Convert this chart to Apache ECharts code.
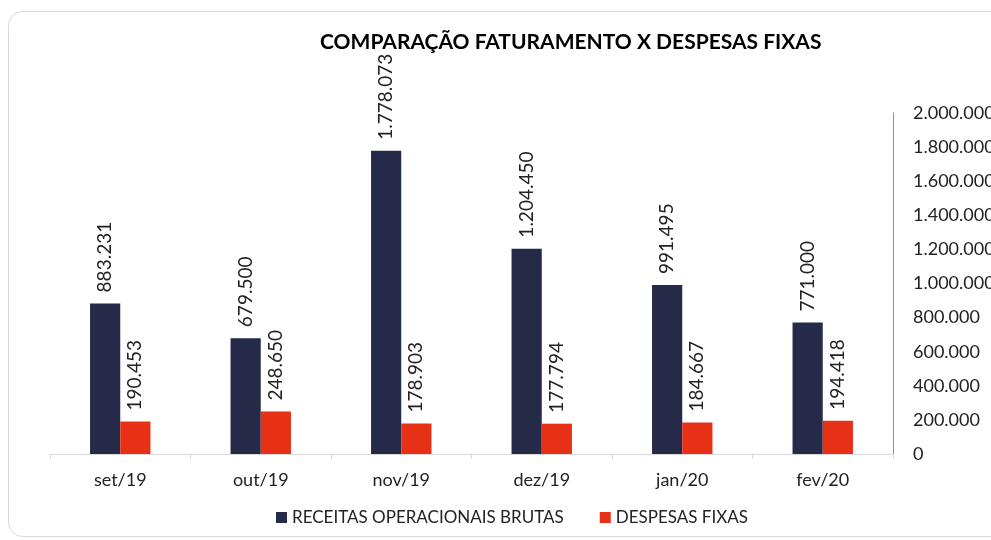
<!DOCTYPE html>
<html><head><meta charset="utf-8">
<script src="https://cdn.jsdelivr.net/npm/echarts@6/dist/echarts.min.js"></script>
<style>html,body{margin:0;padding:0;background:#fff}#c{width:991px;height:540px}</style>
</head><body><div id="c"></div>
<script>
const categories = ['set/19','out/19','nov/19','dez/19','jan/20','fev/20'];
const receitas = [883231, 679500, 1778073, 1204450, 991495, 771000];
const despesas = [190453, 248650, 178903, 177794, 184667, 194418];
const seriesNames = ['RECEITAS OPERACIONAIS BRUTAS', 'DESPESAS FIXAS'];
const titleText = 'COMPARAÇÃO FATURAMENTO X DESPESAS FIXAS';

function fmt(v){ return String(Math.round(v)).replace(/\B(?=(\d{3})+(?!\d))/g, '.'); }
const FONT = 'Lato, "Open Sans", sans-serif';
const chart = echarts.init(document.getElementById('c'));
const lbl = {
  show: true, position: 'top', rotate: 90, align: 'left', verticalAlign: 'middle',
  distance: 11, color: '#222', fontSize: 19, fontFamily: FONT,
  formatter: p => fmt(p.value)
};
chart.setOption({
  animation: false,
  textStyle: {fontFamily: FONT},
  graphic: [{type:'rect', shape:{x:8.5,y:11.5,width:1000,height:525,r:14}, style:{fill:'none', stroke:'#d9d9d9', lineWidth:1}, silent:true}],
  title: {text: titleText, left: 315, top: 27, textStyle:{fontSize:21, fontWeight:'bold', color:'#000', fontFamily: FONT}},
  legend: {bottom: 9, left: 271, itemWidth: 11, itemHeight: 11, itemGap: 36, icon: 'rect',
    textStyle:{fontSize:17, color:'#222', fontFamily: FONT}, data: seriesNames},
  grid: {left: 50, right: 98, top: 113, bottom: 86, containLabel: false, outerBoundsMode: 'none'},
  xAxis: {type: 'category', data: categories,
    axisLine:{lineStyle:{color:'#d9d9d9'}}, axisTick:{show:true, length:5, lineStyle:{color:'#d9d9d9'}},
    axisLabel:{fontSize:18, color:'#222', margin:17, fontFamily: FONT}},
  yAxis: {type: 'value', position: 'right', min: 0, max: 2000000, interval: 200000,
    splitLine:{show:false}, axisLine:{show:true, lineStyle:{color:'#8c92a3'}}, axisTick:{show:false},
    axisLabel:{fontSize:18, color:'#222', margin:20, fontFamily: FONT, formatter: v => fmt(v)}},
  series: [
    {name: seriesNames[0], type: 'bar', data: receitas, barWidth: '21.5%', barGap: '0%',
      itemStyle:{color:'#252a48'}, label: lbl},
    {name: seriesNames[1], type: 'bar', data: despesas, barWidth: '21.5%',
      itemStyle:{color:'#e63117'}, label: lbl}
  ]
});
</script></body></html>
